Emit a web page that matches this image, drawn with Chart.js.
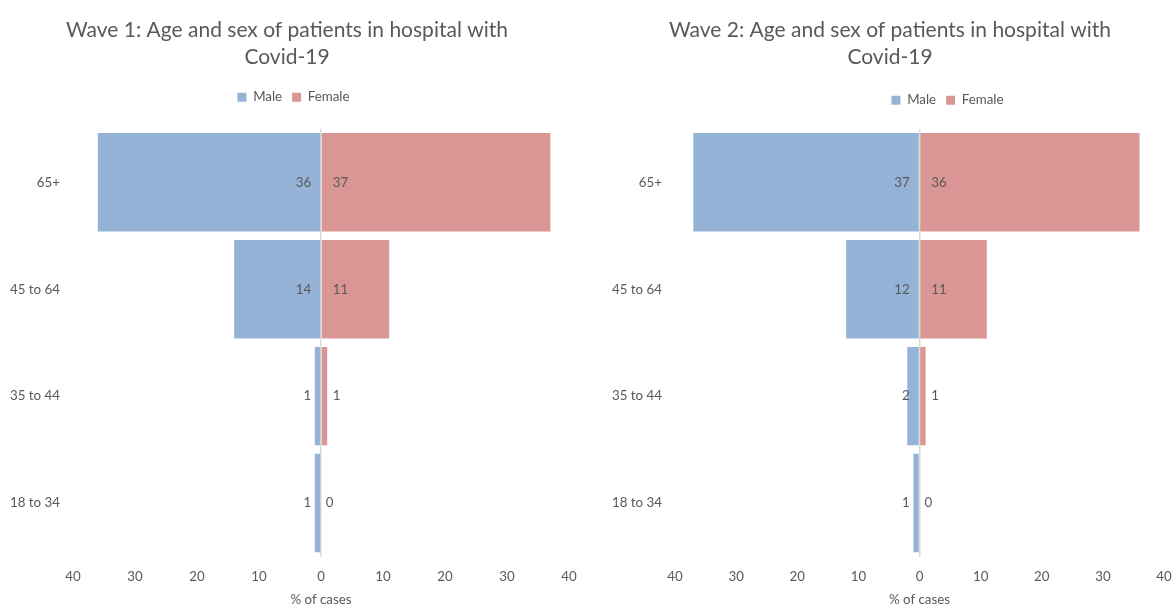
<!DOCTYPE html>
<html>
<head>
<meta charset="utf-8">
<script src="https://cdn.jsdelivr.net/npm/chart.js@4"></script>
<style>
  html, body { margin: 0; padding: 0; background: #ffffff; }
  #wrap { position: relative; width: 1174px; height: 608px; }
  canvas { position: absolute; top: 0; }
  #wave1 { left: 0; }
  #wave2 { left: 587px; }
</style>
</head>
<body>
<div id="wrap">
  <canvas id="wave1" width="587" height="608"></canvas>
  <canvas id="wave2" width="587" height="608"></canvas>
</div>
<script>
const ageGroups = ["65+", "45 to 64", "35 to 44", "18 to 34"];
const seriesNames = ["Male", "Female"];

const wave1Male = [36, 14, 1, 1];
const wave1Female = [37, 11, 1, 0];
const wave2Male = [37, 12, 2, 1];
const wave2Female = [36, 11, 1, 0];

const wave1Title = ["Wave 1: Age and sex of patients in hospital with", "Covid-19"];
const wave2Title = ["Wave 2: Age and sex of patients in hospital with", "Covid-19"];
const axisTitle = "% of cases";
const axisLimit = 40;
const axisStep = 10;

const MALE_COLOR = "#95B3D7";
const FEMALE_COLOR = "#D99694";
const TEXT_COLOR = "#595959";
const FONT = "Lato, 'Open Sans', sans-serif";

// nudges title / legend to where Excel put them
const nudgePlugin = {
  id: "nudge",
  afterLayout(chart, args, opts) {
    const t = chart.titleBlock;
    if (t) {
      t.left += opts.titleDx;
      t.right += opts.titleDx;
    }
    const lg = chart.legend;
    if (lg) {
      lg.left += opts.legendDx;
      lg.right += opts.legendDx;
      lg.top += opts.legendDy;
      lg.bottom += opts.legendDy;
    }
  }
};

// value labels next to the zero line
const barLabels = {
  id: "barLabels",
  afterDatasetsDraw(chart) {
    const ctx = chart.ctx;
    ctx.save();
    ctx.font = "13.33px " + FONT;
    ctx.fillStyle = TEXT_COLOR;
    ctx.textBaseline = "middle";
    chart.data.datasets.forEach((ds, i) => {
      const meta = chart.getDatasetMeta(i);
      meta.data.forEach((bar, j) => {
        const txt = String(Math.abs(ds.data[j]));
        if (i === 0) {
          ctx.textAlign = "right";
          ctx.fillText(txt, bar.base - 9, bar.y);
        } else {
          ctx.textAlign = "left";
          ctx.fillText(txt, bar.base + 11, bar.y);
        }
      });
    });
    ctx.restore();
  }
};

function makeChart(id, titleLines, male, female, lay) {
  const ctx = document.getElementById(id).getContext("2d");
  return new Chart(ctx, {
    type: "bar",
    data: {
      labels: ageGroups,
      datasets: [
        {
          label: seriesNames[0],
          data: male.map(v => -v),
          backgroundColor: MALE_COLOR,
          borderWidth: 0,
          barPercentage: 0.92,
          categoryPercentage: 1.0
        },
        {
          label: seriesNames[1],
          data: female,
          backgroundColor: FEMALE_COLOR,
          borderWidth: 0,
          barPercentage: 0.92,
          categoryPercentage: 1.0
        }
      ]
    },
    options: {
      indexAxis: "y",
      responsive: false,
      animation: false,
      layout: { padding: { left: 0, right: lay.padRight, top: 0, bottom: 0 } },
      plugins: {
        title: {
          display: true,
          text: titleLines,
          color: TEXT_COLOR,
          font: { family: FONT, size: 21, weight: "normal", lineHeight: 27 / 21 },
          padding: { top: 16.5, bottom: 25 }
        },
        legend: {
          display: true,
          position: "top",
          labels: {
            boxWidth: 9,
            boxHeight: 9,
            padding: 10,
            color: TEXT_COLOR,
            font: { family: FONT, size: 13.33 }
          }
        },
        tooltip: { enabled: false },
        nudge: lay.nudge
      },
      scales: {
        x: {
          stacked: true,
          min: -axisLimit,
          max: axisLimit,
          z: 1,
          ticks: {
            stepSize: axisStep,
            padding: 12,
            color: TEXT_COLOR,
            font: { family: FONT, size: 13.33 },
            callback: v => Math.abs(v)
          },
          grid: {
            drawTicks: false,
            lineWidth: 1.5,
            color: c => (c.tick && c.tick.value === 0 ? "#D9D9D9" : "rgba(0,0,0,0)")
          },
          border: { display: false },
          title: {
            display: true,
            text: axisTitle,
            color: TEXT_COLOR,
            font: { family: FONT, size: 13.33 },
            padding: { top: 0, bottom: 0 }
          },
          afterFit: s => {
            s.height = 51.5;
            s.paddingLeft = 0;
            s.paddingRight = 0;
          }
        },
        y: {
          stacked: true,
          ticks: {
            padding: 13,
            color: TEXT_COLOR,
            font: { family: FONT, size: 13.33 }
          },
          grid: { display: false, drawTicks: false },
          border: { display: false },
          afterFit: s => { s.width = lay.axisWidth; }
        }
      }
    },
    plugins: [nudgePlugin, barLabels]
  });
}

makeChart("wave1", wave1Title, wave1Male, wave1Female, {
  padRight: 18,
  axisWidth: 73,
  nudge: { titleDx: 2.5, legendDx: 9, legendDy: -15 }
});

makeChart("wave2", wave2Title, wave2Male, wave2Female, {
  padRight: 10,
  axisWidth: 88,
  nudge: { titleDx: 14.5, legendDx: 72, legendDy: -12 }
});
</script>
</body>
</html>
